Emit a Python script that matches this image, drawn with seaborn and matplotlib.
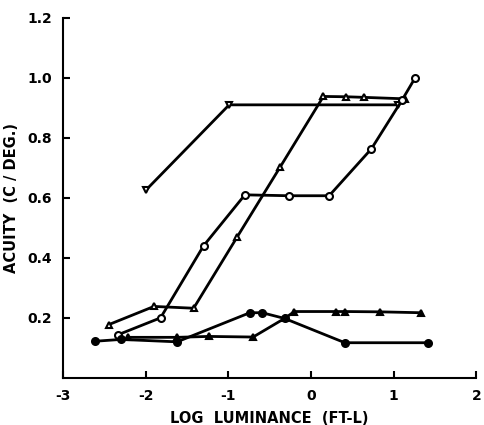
import matplotlib
matplotlib.use("Agg")
import matplotlib.pyplot as plt
import seaborn as sns
import pandas as pd

# --- data ---
down_tri_x = [-2.0, -0.99, 1.05]
down_tri_y = [0.625, 0.91, 0.91]

open_tri_x = [-2.45, -1.90, -1.42, -0.89, -0.37, 0.15, 0.42, 0.64, 1.14]
open_tri_y = [0.177, 0.238, 0.232, 0.471, 0.704, 0.938, 0.937, 0.935, 0.93]

open_circ_x = [-2.34, -1.82, -1.30, -0.80, -0.27, 0.22, 0.73, 1.10, 1.26]
open_circ_y = [0.143, 0.200, 0.440, 0.610, 0.607, 0.607, 0.763, 0.925, 1.0]

filled_circ_x = [-2.61, -2.30, -1.62, -0.74, -0.59, -0.32, 0.41, 1.42]
filled_circ_y = [0.122, 0.128, 0.120, 0.217, 0.217, 0.198, 0.117, 0.117]

filled_tri_x = [-2.22, -1.62, -1.24, -0.70, -0.32, -0.20, 0.30, 0.41, 0.83, 1.33]
filled_tri_y = [0.135, 0.135, 0.138, 0.136, 0.198, 0.221, 0.221, 0.221, 0.220, 0.217]

x_ticks = [-3, -2, -1, 0, 1, 2]
x_tick_labels = ["-3", "-2", "-1", "0", "1", "2"]
y_ticks = [0.2, 0.4, 0.6, 0.8, 1.0, 1.2]
y_tick_labels = ["0.2", "0.4", "0.6", "0.8", "1.0", "1.2"]

sns.set_style("ticks")
plt.rcParams["font.family"] = ["DejaVu Sans"]
plt.rcParams["text.color"] = "black"
plt.rcParams["axes.labelcolor"] = "black"
plt.rcParams["xtick.color"] = "black"
plt.rcParams["ytick.color"] = "black"
plt.rcParams["axes.edgecolor"] = "black"

fig = plt.figure(figsize=(4.85, 4.25), dpi=100)
ax = fig.add_axes([0.130, 0.111, 0.852, 0.847])

series = [
    (down_tri_x, down_tri_y, "v", "white"),
    (open_tri_x, open_tri_y, "^", "white"),
    (open_circ_x, open_circ_y, "o", "white"),
    (filled_circ_x, filled_circ_y, "o", "black"),
    (filled_tri_x, filled_tri_y, "^", "black"),
]
for xs, ys, mk, fc in series:
    df = pd.DataFrame({"x": xs, "y": ys})
    sns.lineplot(data=df, x="x", y="y", sort=False, ax=ax, color="black",
                 linewidth=2.0, marker=mk, markersize=5,
                 markerfacecolor=fc, markeredgecolor="black",
                 markeredgewidth=1.5)

ax.set_xlim(-3, 2)
ax.set_ylim(0, 1.2)
ax.set_xticks(x_ticks)
ax.set_xticklabels(x_tick_labels, fontsize=10, fontweight="bold")
ax.set_yticks(y_ticks)
ax.set_yticklabels(y_tick_labels, fontsize=10, fontweight="bold")
ax.tick_params(direction="in", length=5, width=1.5, pad=8)
for s in ["left", "bottom"]:
    ax.spines[s].set_linewidth(1.5)
sns.despine(ax=ax)
ax.set_xlabel("LOG  LUMINANCE  (FT-L)", fontsize=10.5, fontweight="bold", labelpad=6)
ax.set_ylabel("ACUITY  (C / DEG.)", fontsize=10.5, fontweight="bold", labelpad=6)

fig.savefig("out.png", dpi=100)
